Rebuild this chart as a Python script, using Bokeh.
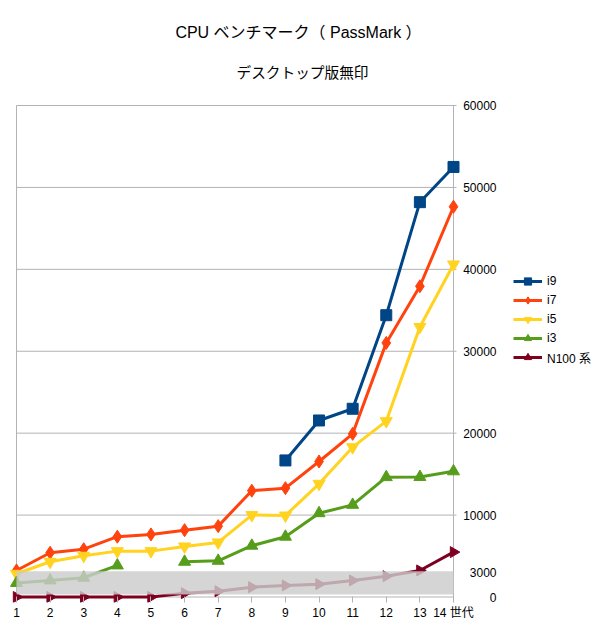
import numpy as np
from bokeh.plotting import figure
from bokeh.models import (Range1d, FixedTicker, BoxAnnotation, Label, Legend,
                          LegendItem, BasicTickFormatter)
from bokeh.embed import file_html
from bokeh.resources import INLINE

# ---------------- data ----------------
nan = float("nan")
gens = list(range(1, 15))
x_labels = [str(g) for g in range(1, 14)] + ["14 世代"]
y_ticks = [0, 3000, 10000, 20000, 30000, 40000, 50000, 60000]

i9 = [nan, nan, nan, nan, nan, nan, nan, nan, 16670, 21550, 22980, 34400, 48200, 52500]
i7 = [3240, 5400, 5840, 7360, 7640, 8160, 8650, 12980, 13290, 16540, 19920, 31020, 37930, 47640]
i5 = [2840, 4300, 5040, 5600, 5600, 6170, 6660, 10000, 9950, 13820, 18290, 21470, 32970, 40600]
i3 = [1710, 2020, 2350, 3850, nan, 4300, 4420, 6260, 7360, 10230, 11250, 14630, 14650, 15340]
n100 = [0, 0, 0, 0, 0, 470, 710, 1200, 1410, 1570, 2020, 2540, 3240, 5480]

series_names = ["i9", "i7", "i5", "i3", "N100 系"]
series_values = [i9, i7, i5, i3, n100]

band_low, band_high = 300, 3150

title_text = "CPU ベンチマーク（ PassMark ）"
subtitle_text = "デスクトップ版無印"

# ---------------- styles ----------------
colors = ["#004586", "#ff420e", "#ffd320", "#579d1c", "#7e0021"]
markers = ["square", "diamond", "inverted_triangle", "triangle", "triangle"]
sizes = [11, 13, 12, 12, 11]
angles = [0, 0, 0, 0, -np.pi / 2]
FONT = "Liberation Sans, Noto Sans CJK JP"
GRID = "#b3b3b3"

W, H = 600, 630
FRAME_W, FRAME_H = 600, 602           # frame spans page x 0..600, y 0..602
PX_X = 437 / 13                        # px per generation
x_start = 1 - 16 / PX_X
x_end = x_start + FRAME_W / PX_X
PX_Y = 491.5 / 60000                   # px per unit
ZERO_Y = 596.5                         # page y of value 0
y_start = -(FRAME_H - ZERO_Y) / PX_Y
y_end = ZERO_Y / PX_Y
tick_ext = 3 / PX_X

p = figure(width=W, height=H, output_backend="svg", toolbar_location=None,
           x_range=Range1d(x_start, x_end), y_range=Range1d(y_start, y_end),
           y_axis_location="left",
           min_border_left=0, min_border_right=0, min_border_top=0,
           min_border_bottom=H - FRAME_H)
p.outline_line_color = None
p.xgrid.visible = False
p.ygrid.visible = False
p.background_fill_color = "white"
p.border_fill_color = "white"

grid_vals = [t for t in y_ticks if t > 0 and t % 10000 == 0]
p.segment(x0=[gens[0]] * len(grid_vals), x1=[gens[-1] + tick_ext] * len(grid_vals),
          y0=grid_vals, y1=grid_vals, line_color=GRID, line_width=1)
p.segment(x0=[gens[0], gens[-1], gens[0]], x1=[gens[0], gens[-1], gens[-1]],
          y0=[y_ticks[0], y_ticks[0], y_ticks[0]], y1=[y_ticks[-1], y_ticks[-1], y_ticks[0]],
          line_color=GRID, line_width=1)

xa = p.xaxis[0]
xa.ticker = FixedTicker(ticks=gens)
xa.major_label_overrides = {g: lab for g, lab in zip(gens, x_labels)}
xa.axis_line_color = None
xa.major_tick_line_color = GRID
xa.major_tick_out = 0
xa.major_tick_in = int(round(FRAME_H - ZERO_Y))
xa.minor_tick_line_color = None
xa.major_label_standoff = 3
xa.major_label_text_font_size = "12px"
xa.major_label_text_font = FONT
xa.major_label_text_color = "#000000"

# value axis drawn at the last generation; labels pushed to its right side
ya = p.yaxis[0]
ya.fixed_location = gens[-1]
ya.ticker = FixedTicker(ticks=y_ticks)
ya.formatter = BasicTickFormatter(use_scientific=False)
ya.axis_line_color = None
ya.major_tick_line_color = None
ya.major_tick_out = 0
ya.major_tick_in = 0
ya.minor_tick_line_color = None
ya.major_label_standoff = -43
ya.major_label_text_font_size = "12px"
ya.major_label_text_font = FONT
ya.major_label_text_color = "#000000"

items = []
for name, vals, c, m, s, a in zip(series_names, series_values, colors, markers, sizes, angles):
    y = np.array(vals, dtype=float)
    lr = p.line(gens, y, line_color=c, line_width=3)
    sr = p.scatter(gens, y, marker=m, size=s, angle=a, fill_color=c, line_color=c)
    items.append(LegendItem(label=name, renderers=[lr, sr]))

band = BoxAnnotation(left=gens[0], right=gens[-1], bottom=band_low, top=band_high,
                     fill_color="#cccccc", fill_alpha=0.82, line_color=None)
p.add_layout(band)

p.add_layout(Label(x=298, y=FRAME_H - 32, x_units="screen", y_units="screen", text=title_text,
                   text_align="center", text_baseline="middle",
                   text_font_size="16px", text_font=FONT, text_color="#000000"))
p.add_layout(Label(x=302, y=FRAME_H - 72.5, x_units="screen", y_units="screen", text=subtitle_text,
                   text_align="center", text_baseline="middle",
                   text_font_size="14.67px", text_font=FONT, text_color="#000000"))

legend = Legend(items=items, location=(513, 236), padding=0, margin=0, spacing=1,
                glyph_width=29, glyph_height=18, label_height=18, label_standoff=5,
                label_text_font_size="12px", label_text_font=FONT,
                label_text_color="#000000",
                border_line_color=None, background_fill_alpha=0)
p.add_layout(legend)

open("out.html", "w").write(file_html(p, INLINE))
